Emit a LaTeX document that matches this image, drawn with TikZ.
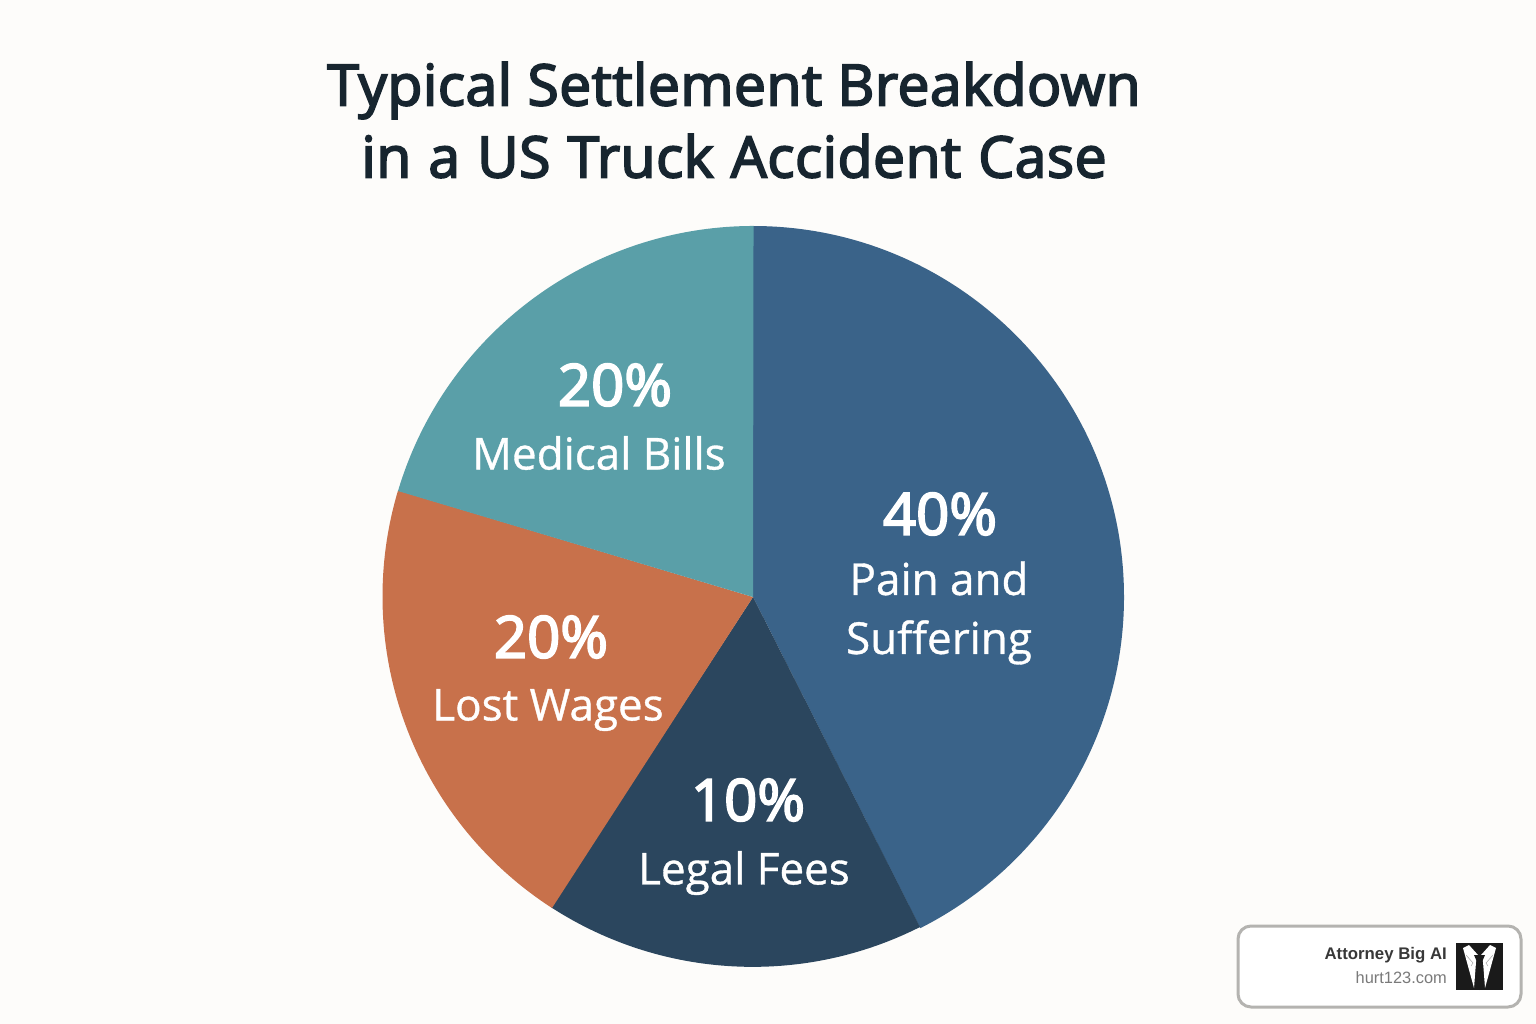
\documentclass[tikz,border=0pt]{standalone}
\usepackage{fontspec}
\setmainfont{Liberation Sans}
\newfontfamily\titlefont[FakeBold=3.2,LetterSpace=0.9]{Open Sans}
\newfontfamily\labelfont[FakeBold=0.8]{Open Sans}
\newfontfamily\pctfont[FakeBold=3.2]{Open Sans}
\definecolor{bgc}{HTML}{FDFCFA}
\definecolor{titlec}{HTML}{17252F}
\definecolor{painc}{HTML}{3A6389}
\definecolor{legalc}{HTML}{2B465E}
\definecolor{lostc}{HTML}{C8714B}
\definecolor{medc}{HTML}{5A9FA8}
\definecolor{framec}{HTML}{B4B3B0}
\definecolor{iconc}{HTML}{1A1A1A}
\newcommand{\wsp}{\ \kern1.8pt }
\tikzset{
 titletext/.style={text=titlec,font=\titlefont\fontsize{57}{72}\selectfont,align=center,inner sep=0pt},
 pct/.style={text=white,font=\pctfont\fontsize{58}{60}\selectfont,inner sep=0pt},
 lab/.style={text=white,font=\labelfont\fontsize{44}{59}\selectfont,align=center,inner sep=0pt},
}
\begin{document}
\begin{tikzpicture}[x=1pt,y=-1pt]
\useasboundingbox[fill=bgc] (0,0) rectangle (1536,1024);
\coordinate (c) at (753,597);
\fill[painc] (c) -- (753,226) arc[start angle=90,end angle=-63.2,radius=371pt] -- cycle;
\fill[legalc] (c) -- (920,927) arc[start angle=-63.2,end angle=-122.9,radius=371pt] -- cycle;
\fill[lostc] (c) -- (552,908) arc[start angle=-122.9,end angle=-196.6,radius=371pt] -- cycle;
\fill[medc] (c) -- (398,491) arc[start angle=163.4,end angle=90,radius=371pt] -- cycle;
\node[titletext] (title) at (734,120) {Typical Settlement Breakdown\\in\wsp a\wsp US\wsp Truck\wsp Accident\wsp Case};
\node[pct] (p1) at (940,514) {40\%};
\node[lab] (l1) at (939,613) {Pain and\\Suffering};
\node[pct] (p2) at (748,800) {10\%};
\node[lab] (l2) at (744,873) {Legal Fees};
\node[pct] (p3) at (551,637) {20\%};
\node[lab] (l3) at (548,710) {Lost Wages};
\node[pct] (p4) at (615,385) {20\%};
\node[lab] (l4) at (599,453) {Medical Bills};
\draw[framec,line width=3pt,fill=white,rounded corners=13pt] (1238,926) rectangle (1521,1007);
\node[anchor=east,inner sep=0pt,text=black!78,font=\fontsize{16.8}{20}\selectfont\bfseries] (brand) at (1447,955.5) {Attorney Big AI};
\node[anchor=east,inner sep=0pt,text=black!52,font=\fontsize{16.4}{20}\selectfont] (url) at (1447,978) {hurt123.com};
\fill[iconc] (1456,943) rectangle (1503,990);
\fill[white] (1463,948) -- (1469,945) -- (1478,955) -- (1476,962) -- (1474,988) -- cycle;
\fill[white] (1496,948) -- (1490,945) -- (1481,955) -- (1483,962) -- (1485,988) -- cycle;
\fill[iconc] (1474,955) -- (1485,955) -- (1482,962) -- (1484,984) -- (1479.5,990) -- (1475,984) -- (1477,962) -- cycle;
\draw[black!35,line width=0.5pt] (1466,955) -- (1473,963) -- (1471,966);
\draw[black!35,line width=0.5pt] (1493,955) -- (1486,963) -- (1488,966);
\end{tikzpicture}
\end{document}
